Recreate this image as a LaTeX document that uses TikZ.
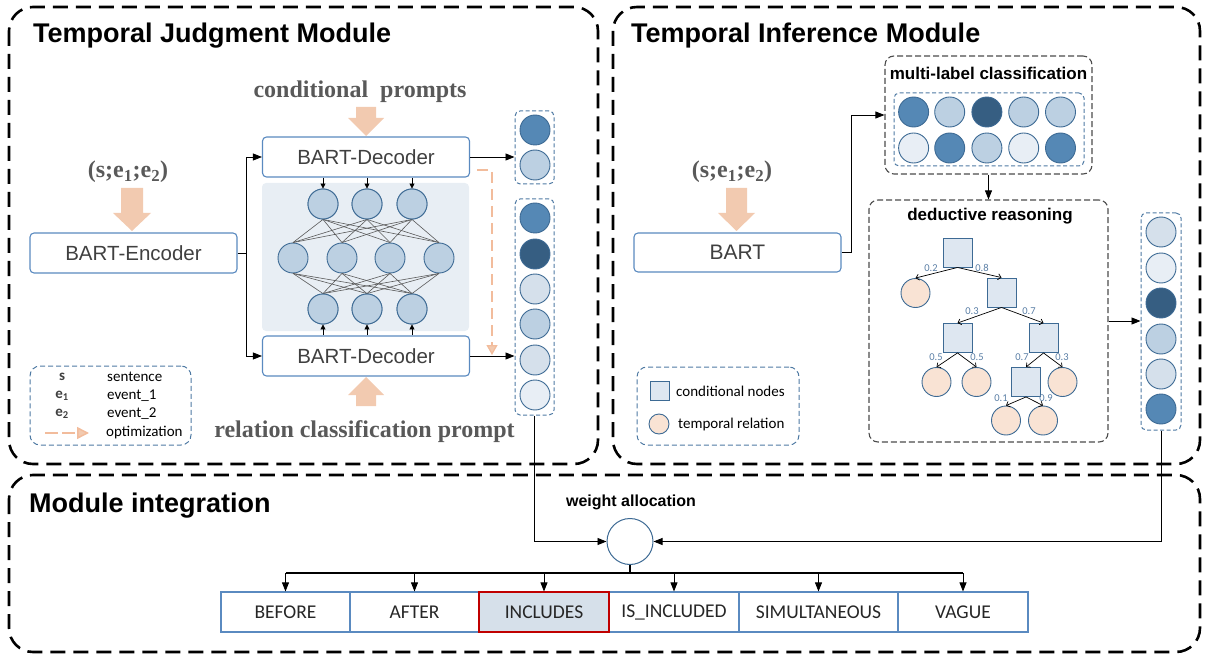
\documentclass[tikz,border=0pt]{standalone}
\usepackage{fontspec}
\setmainfont{Liberation Sans}
\newfontfamily\serifb{Liberation Serif}
\newfontfamily\calfont{Carlito}
\usetikzlibrary{arrows.meta,calc}
\definecolor{boxblue}{HTML}{5A8AC0}
\definecolor{cborder}{HTML}{3D6A94}
\definecolor{cA}{HTML}{5588B5}
\definecolor{cB}{HTML}{365E82}
\definecolor{cC}{HTML}{BCD0E2}
\definecolor{cD}{HTML}{D5E0EB}
\definecolor{cE}{HTML}{E8EEF5}
\definecolor{peach}{HTML}{F2CAB0}
\definecolor{peachline}{HTML}{F2BC9C}
\definecolor{leaf}{HTML}{F9E3D4}
\definecolor{sqfill}{HTML}{DEE7F1}
\definecolor{netbg}{HTML}{E8EEF4}
\definecolor{legblue}{HTML}{4F7AA3}
\definecolor{sgray}{HTML}{595959}
\definecolor{tgray}{HTML}{404040}
\definecolor{tlabel}{HTML}{5B7FA6}
\definecolor{incred}{HTML}{C00000}
\definecolor{incfill}{HTML}{D6E0EA}
\begin{document}
\begin{tikzpicture}[x=1pt,y=-1pt,
  frame/.style={draw=black, line width=2.6pt, dash pattern=on 15pt off 8pt, rounded corners=24pt},
  bbox/.style={draw=boxblue, line width=1.1pt, rounded corners=4pt, fill=white, minimum width=207pt, minimum height=40pt, inner sep=0pt, font=\fontsize{20.5}{24}\selectfont, text=tgray},
  neuron/.style={circle, draw=cborder, line width=0.9pt, fill=cC, minimum size=30pt, inner sep=0pt},
  dot/.style={circle, draw=cborder, line width=0.9pt, minimum size=30pt, inner sep=0pt},
  leafc/.style={circle, draw=cborder, line width=0.9pt, fill=leaf, minimum size=29pt, inner sep=0pt},
  sqn/.style={rectangle, draw=cborder, line width=0.9pt, fill=sqfill, minimum size=29pt, inner sep=0pt},
  arr/.style={-{Triangle[length=9pt,width=7pt]}, line width=0.8pt},
  sarr/.style={-{Triangle[length=5pt,width=5pt]}, line width=0.8pt},
  tarr/.style={-{Straight Barb[length=3pt,width=6pt]}, line width=0.7pt},
  netline/.style={draw=black!65, line width=0.6pt},
  colbox/.style={draw=legblue, line width=1pt, dash pattern=on 4pt off 2.5pt, rounded corners=5pt, inner sep=0pt},
  grayframe/.style={draw=black!70, line width=1.1pt, dash pattern=on 6pt off 3pt, rounded corners=9pt, inner sep=0pt},
  legbox/.style={draw=legblue, line width=1pt, dash pattern=on 5pt off 3pt, rounded corners=10pt, inner sep=0pt},
  title/.style={font=\fontsize{27}{30}\selectfont\bfseries, anchor=base west, inner sep=0pt},
  stitle/.style={font=\fontsize{17}{20}\selectfont\bfseries, anchor=base, inner sep=0pt},
  serif/.style={font=\serifb\fontsize{24}{28}\selectfont\bfseries, text=sgray, anchor=base, inner sep=0pt},
  leg/.style={font=\calfont\fontsize{15}{18}\selectfont, anchor=west, inner sep=0pt},
  legsym/.style={font=\calfont\fontsize{15}{18}\selectfont\bfseries, text=tgray, inner sep=0pt},
  tl/.style={font=\calfont\fontsize{10.5}{12}\selectfont, text=tlabel, inner sep=0pt},
  outbox/.style={draw=boxblue, line width=1.1pt, minimum height=40pt, inner sep=0pt, font=\calfont\fontsize{19.5}{22}\selectfont, text=black!85}
]
\useasboundingbox (0,0) rectangle (1205,655);

% ---------- frames ----------
\draw[frame] (9,7) rectangle (598,464);
\draw[frame] (613,7) rectangle (1200,464);
\draw[frame] (9,475) rectangle (1200,652);

\node[title] (t1) at (33,43) {Temporal Judgment Module};
\node[title] (t2) at (631,43) {Temporal Inference Module};
\node[title] (t3) at (29,512) {Module integration};

% ---------- Judgment module ----------
\node[serif] (in1) at (128,178) {(s;e\textsubscript{1};e\textsubscript{2})};
\fill[peach] (121,188) -- (143,188) -- (143,213) -- (151,213) -- (132,231) -- (113,213) -- (121,213) -- cycle;
\node[bbox] (enc) at (133.5,253) {BART-Encoder};

\node[serif] (cp) at (360,98) {conditional~~prompts};
\fill[peach] (356,107) -- (376,107) -- (376,118) -- (384,118) -- (366,136) -- (348,118) -- (356,118) -- cycle;
\node[bbox] (dec1) at (366,157) {BART-Decoder};

\node[draw=none, fill=netbg, rounded corners=4pt, minimum width=207pt, minimum height=148pt, inner sep=0pt] (net) at (365.5,257) {};
\node[neuron] (a1) at (323,204) {};
\node[neuron] (a2) at (367,204) {};
\node[neuron] (a3) at (412,204) {};
\node[neuron] (m1) at (293,258) {};
\node[neuron] (m2) at (342,258) {};
\node[neuron] (m3) at (390,258) {};
\node[neuron] (m4) at (439,258) {};
\node[neuron] (b1) at (323,309) {};
\node[neuron] (b2) at (367,309) {};
\node[neuron] (b3) at (412,309) {};
\foreach \a in {a1,a2,a3}{\foreach \b in {m1,m2,m3,m4}{\draw[netline] (\a.south) -- (\b.north);}}
\foreach \a in {m1,m2,m3,m4}{\foreach \b in {b1,b2,b3}{\draw[netline] (\a.south) -- (\b.north);}}
\foreach \a in {a1,a2,a3,b1,b2,b3}{\node[neuron] at (\a) {};}

\node[bbox] (dec2) at (366,356) {BART-Decoder};
\fill[peach] (356,406) -- (376,406) -- (376,395) -- (384,395) -- (366,377) -- (348,395) -- (356,395) -- cycle;
\node[serif] (rp) at (364.5,437) {relation classification prompt};

\foreach \a in {a1,a2,a3}{\draw[sarr] (\a |- dec1.south) -- (\a.north);}
\foreach \a in {b1,b2,b3}{\draw[sarr] (\a |- dec2.north) -- (\a.south);}

\coordinate (split) at (246,253);
\draw[line width=0.8pt] (enc.east) -- (split);
\draw[arr] (split) |- (dec1.west);
\draw[arr] (split) |- (dec2.west);

% output columns (left)
\node[colbox, minimum width=39pt, minimum height=73pt] (col1) at (534.5,147.5) {};
\node[dot, fill=cA] at (535,130) {};
\node[dot, fill=cC] at (535,165) {};
\node[colbox, minimum width=39pt, minimum height=216pt] (col2) at (534.5,307) {};
\node[dot, fill=cA] at (535,218) {};
\node[dot, fill=cB] at (535,254) {};
\node[dot, fill=cD] at (535,289) {};
\node[dot, fill=cC] at (535,324) {};
\node[dot, fill=cD] at (535,360) {};
\node[dot, fill=cE] at (535,395) {};

\draw[arr] (dec1.east) -- (dec1.east -| col1.west);
\draw[arr] (dec2.east) -- (dec2.east -| col2.west);

% optimization path
\coordinate (o1) at (477,170);
\coordinate (o2) at (492,170);
\coordinate (o3) at (492,355);
\draw[draw=peachline, line width=1.3pt, dash pattern=on 11pt off 6pt, -{Triangle[length=10pt,width=11pt,fill=peach]}] (o1) -- (o2) -- (o3);

% legend left
\node[legbox, minimum width=161pt, minimum height=79pt] (leg1) at (110.5,405.5) {};
\node[legsym] (ls) at (62,377) {s};
\node[legsym] (le1) at (62,396) {e\textsubscript{1}};
\node[legsym] (le2) at (62,414) {e\textsubscript{2}};
\node[leg] (lt1) at (107,377) {sentence};
\node[leg] (lt2) at (107,396) {event\_1};
\node[leg] (lt3) at (107,414) {event\_2};
\node[leg] (lt4) at (106,433) {optimization};
\coordinate (lo1) at (45,433);
\coordinate (lo2) at (89,433);
\draw[draw=peachline, line width=1.5pt, dash pattern=on 13pt off 4pt, -{Triangle[length=12pt,width=12pt,fill=peach]}] (lo1) -- (lo2);

% ---------- Inference module ----------
\node[serif] (in2) at (732,178) {(s;e\textsubscript{1};e\textsubscript{2})};
\fill[peach] (726,188) -- (747,188) -- (747,213) -- (755,213) -- (736.5,231) -- (718,213) -- (726,213) -- cycle;
\node[bbox, minimum height=39pt, font=\fontsize{21}{24}\selectfont] (bart) at (737.5,252.5) {BART};

\node[grayframe, minimum width=207pt, minimum height=118pt] (ml) at (988.5,115) {};
\node[stitle] (mlt) at (988.5,80) {multi-label classification};
\node[colbox, minimum width=190pt, minimum height=73pt] (mli) at (989,129.5) {};
\foreach \x/\c in {913.6/cA,949.7/cC,986.9/cB,1023.7/cC,1060.5/cC}{\node[dot, fill=\c] at (\x,112) {};}
\foreach \x/\c in {913.6/cE,949.7/cA,986.9/cC,1023.7/cE,1060.5/cA}{\node[dot, fill=\c] at (\x,148) {};}

\draw[arr] (bart.east) -- ++(10,0) |- (ml.west);

\node[grayframe, minimum width=239pt, minimum height=242pt] (ded) at (988.5,321) {};
\node[stitle] (dedt) at (990,221) {deductive reasoning};
\draw[arr] (ml.south) -- (ded.north);

% tree
\node[sqn] (r0) at (957.5,252.5) {};
\node[leafc] (l0) at (915.5,293) {};
\node[sqn] (s2) at (1001.5,292.5) {};
\node[sqn] (s3) at (957.5,338) {};
\node[sqn] (s4) at (1043.5,338) {};
\node[leafc] (l1) at (936.5,382) {};
\node[leafc] (l2) at (976.5,382) {};
\node[sqn] (s5) at (1026,382) {};
\node[leafc] (l3) at (1062.5,382) {};
\node[leafc] (l4) at (1006,420.5) {};
\node[leafc] (l5) at (1043,420.5) {};
\draw[tarr] (r0.south) -- (l0.north);
\draw[tarr] (r0.south) -- (s2.north);
\draw[tarr] (s2.south) -- (s3.north);
\draw[tarr] (s2.south) -- (s4.north);
\draw[tarr] (s3.south) -- (l1.north);
\draw[tarr] (s3.south) -- (l2.north);
\draw[tarr] (s4.south) -- (s5.north);
\draw[tarr] (s4.south) -- (l3.north);
\draw[tarr] (s5.south) -- (l4.north);
\draw[tarr] (s5.south) -- (l5.north);
\node[tl] at (931,268) {0.2};
\node[tl] at (982,268) {0.8};
\node[tl] at (972,311) {0.3};
\node[tl] at (1029,311) {0.7};
\node[tl] at (936,357) {0.5};
\node[tl] at (977,357) {0.5};
\node[tl] at (1022,357) {0.7};
\node[tl] at (1062,357) {0.3};
\node[tl] at (1001,398) {0.1};
\node[tl] at (1046,398) {0.9};

% right column
\node[colbox, minimum width=40pt, minimum height=217pt] (colR) at (1161,321.5) {};
\node[dot, fill=cD] at (1161,232) {};
\node[dot, fill=cE] at (1161,268) {};
\node[dot, fill=cB] at (1161,303) {};
\node[dot, fill=cC] at (1161,339) {};
\node[dot, fill=cD] at (1161,374) {};
\node[dot, fill=cA] at (1161,409) {};
\draw[arr] (ded.east) -- (ded.east -| colR.west);

% legend right
\node[legbox, minimum width=162pt, minimum height=78pt] (leg2) at (718,406) {};
\node[sqn, minimum size=19pt] (lsq) at (659.5,391) {};
\node[leafc, minimum size=20pt] (lci) at (659,424) {};
\node[leg] (lr1) at (676,391) {conditional nodes};
\node[leg] (lr2) at (678,424) {temporal relation};

% ---------- Integration ----------
\node[stitle, font=\fontsize{16}{19}\selectfont\bfseries] (wat) at (631,506) {weight allocation};
\node[circle, draw=cborder, line width=1pt, fill=white, minimum size=46pt, inner sep=0pt] (wc) at (630,541.5) {};
\draw[arr] (col2.south) |- (wc.west);
\draw[arr] (colR.south) |- (wc.east);

\node[outbox, minimum width=129pt] (o1b) at (285.5,612) {BEFORE};
\node[outbox, minimum width=129pt] (o2b) at (414.5,612) {AFTER};
\node[outbox, minimum width=130pt] (o4b) at (674,612) {IS\_INCLUDED};
\node[outbox, minimum width=159pt] (o5b) at (818.5,612) {SIMULTANEOUS};
\node[outbox, minimum width=130pt] (o6b) at (963,612) {VAGUE};
\node[outbox, minimum width=130pt, draw=incred, fill=incfill] (o3b) at (544,612) {INCLUDES};

\coordinate (bus) at (630,573);
\draw[line width=1.2pt] (wc.south) -- (bus);
\draw[line width=1.2pt] (o1b.north |- bus) -- (o6b.north |- bus);
\foreach \b in {o1b,o2b,o3b,o4b,o5b,o6b}{\draw[arr] (\b.north |- bus) -- (\b.north);}
\end{tikzpicture}
\end{document}
